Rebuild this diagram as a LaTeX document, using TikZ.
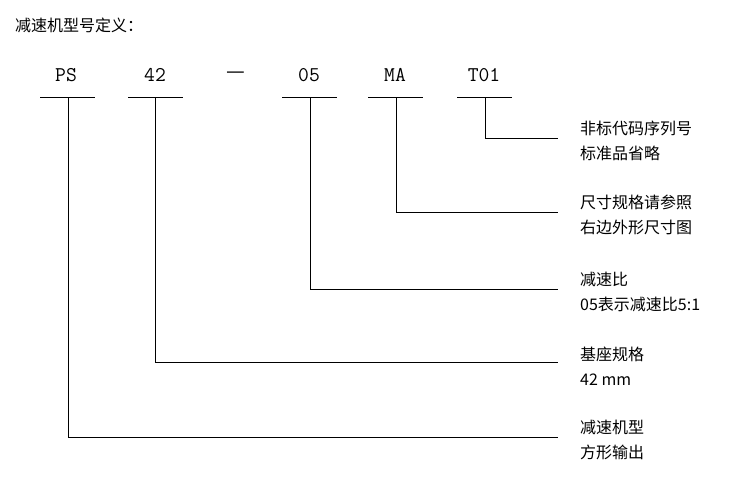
\documentclass[tikz,border=0pt]{standalone}
\usepackage{fontspec}
\setmainfont{Liberation Serif}
\newfontfamily\cjk{Noto Sans CJK SC}
\begin{document}
\begin{tikzpicture}[x=1pt,y=-1pt,
  code/.style={font=\fontsize{21}{24}\selectfont\ttfamily,inner sep=0pt},
  lbl/.style={font=\cjk\fontsize{16}{25}\selectfont,anchor=west,align=left,inner sep=0pt},
  ln/.style={line width=0.8pt}]
\useasboundingbox (0,0) rectangle (750,480);
\node[anchor=west,inner sep=0pt,font=\cjk\fontsize{16}{18}\selectfont] (t) at (15,25) {减速机型号定义：};
\node[code] (ps) at (66,75) {PS};
\node[code] (n42) at (155,75) {42};
\node[code,font=\cjk\fontsize{21}{24}\selectfont] (dash) at (236,75) {—};
\node[code] (n05) at (309,75) {05};
\node[code] (ma) at (395,75) {MA};
\node[code] (t01) at (484,75) {T01};
\foreach \a/\b in {40/95,128/183,282/337,368/423,457/512}{\draw[ln] (\a,97)--(\b,97);}
\coordinate (e1) at (558,138);
\coordinate (e2) at (558,212);
\coordinate (e3) at (558,289);
\coordinate (e4) at (558,362);
\coordinate (e5) at (558,437);
\draw[ln] (485,97) |- (e1);
\draw[ln] (396,97) |- (e2);
\draw[ln] (310,97) |- (e3);
\draw[ln] (155,97) |- (e4);
\draw[ln] (68,97) |- (e5);
\node[lbl] (l1) at (580,141) {非标代码序列号\\标准品省略};
\node[lbl] (l2) at (580,215) {尺寸规格请参照\\右边外形尺寸图};
\node[lbl] (l3) at (580,292) {减速比\\05表示减速比5:1};
\node[lbl] (l4) at (580,366) {基座规格\\42 mm};
\node[lbl] (l5) at (580,440) {减速机型\\方形输出};
\end{tikzpicture}
\end{document}
